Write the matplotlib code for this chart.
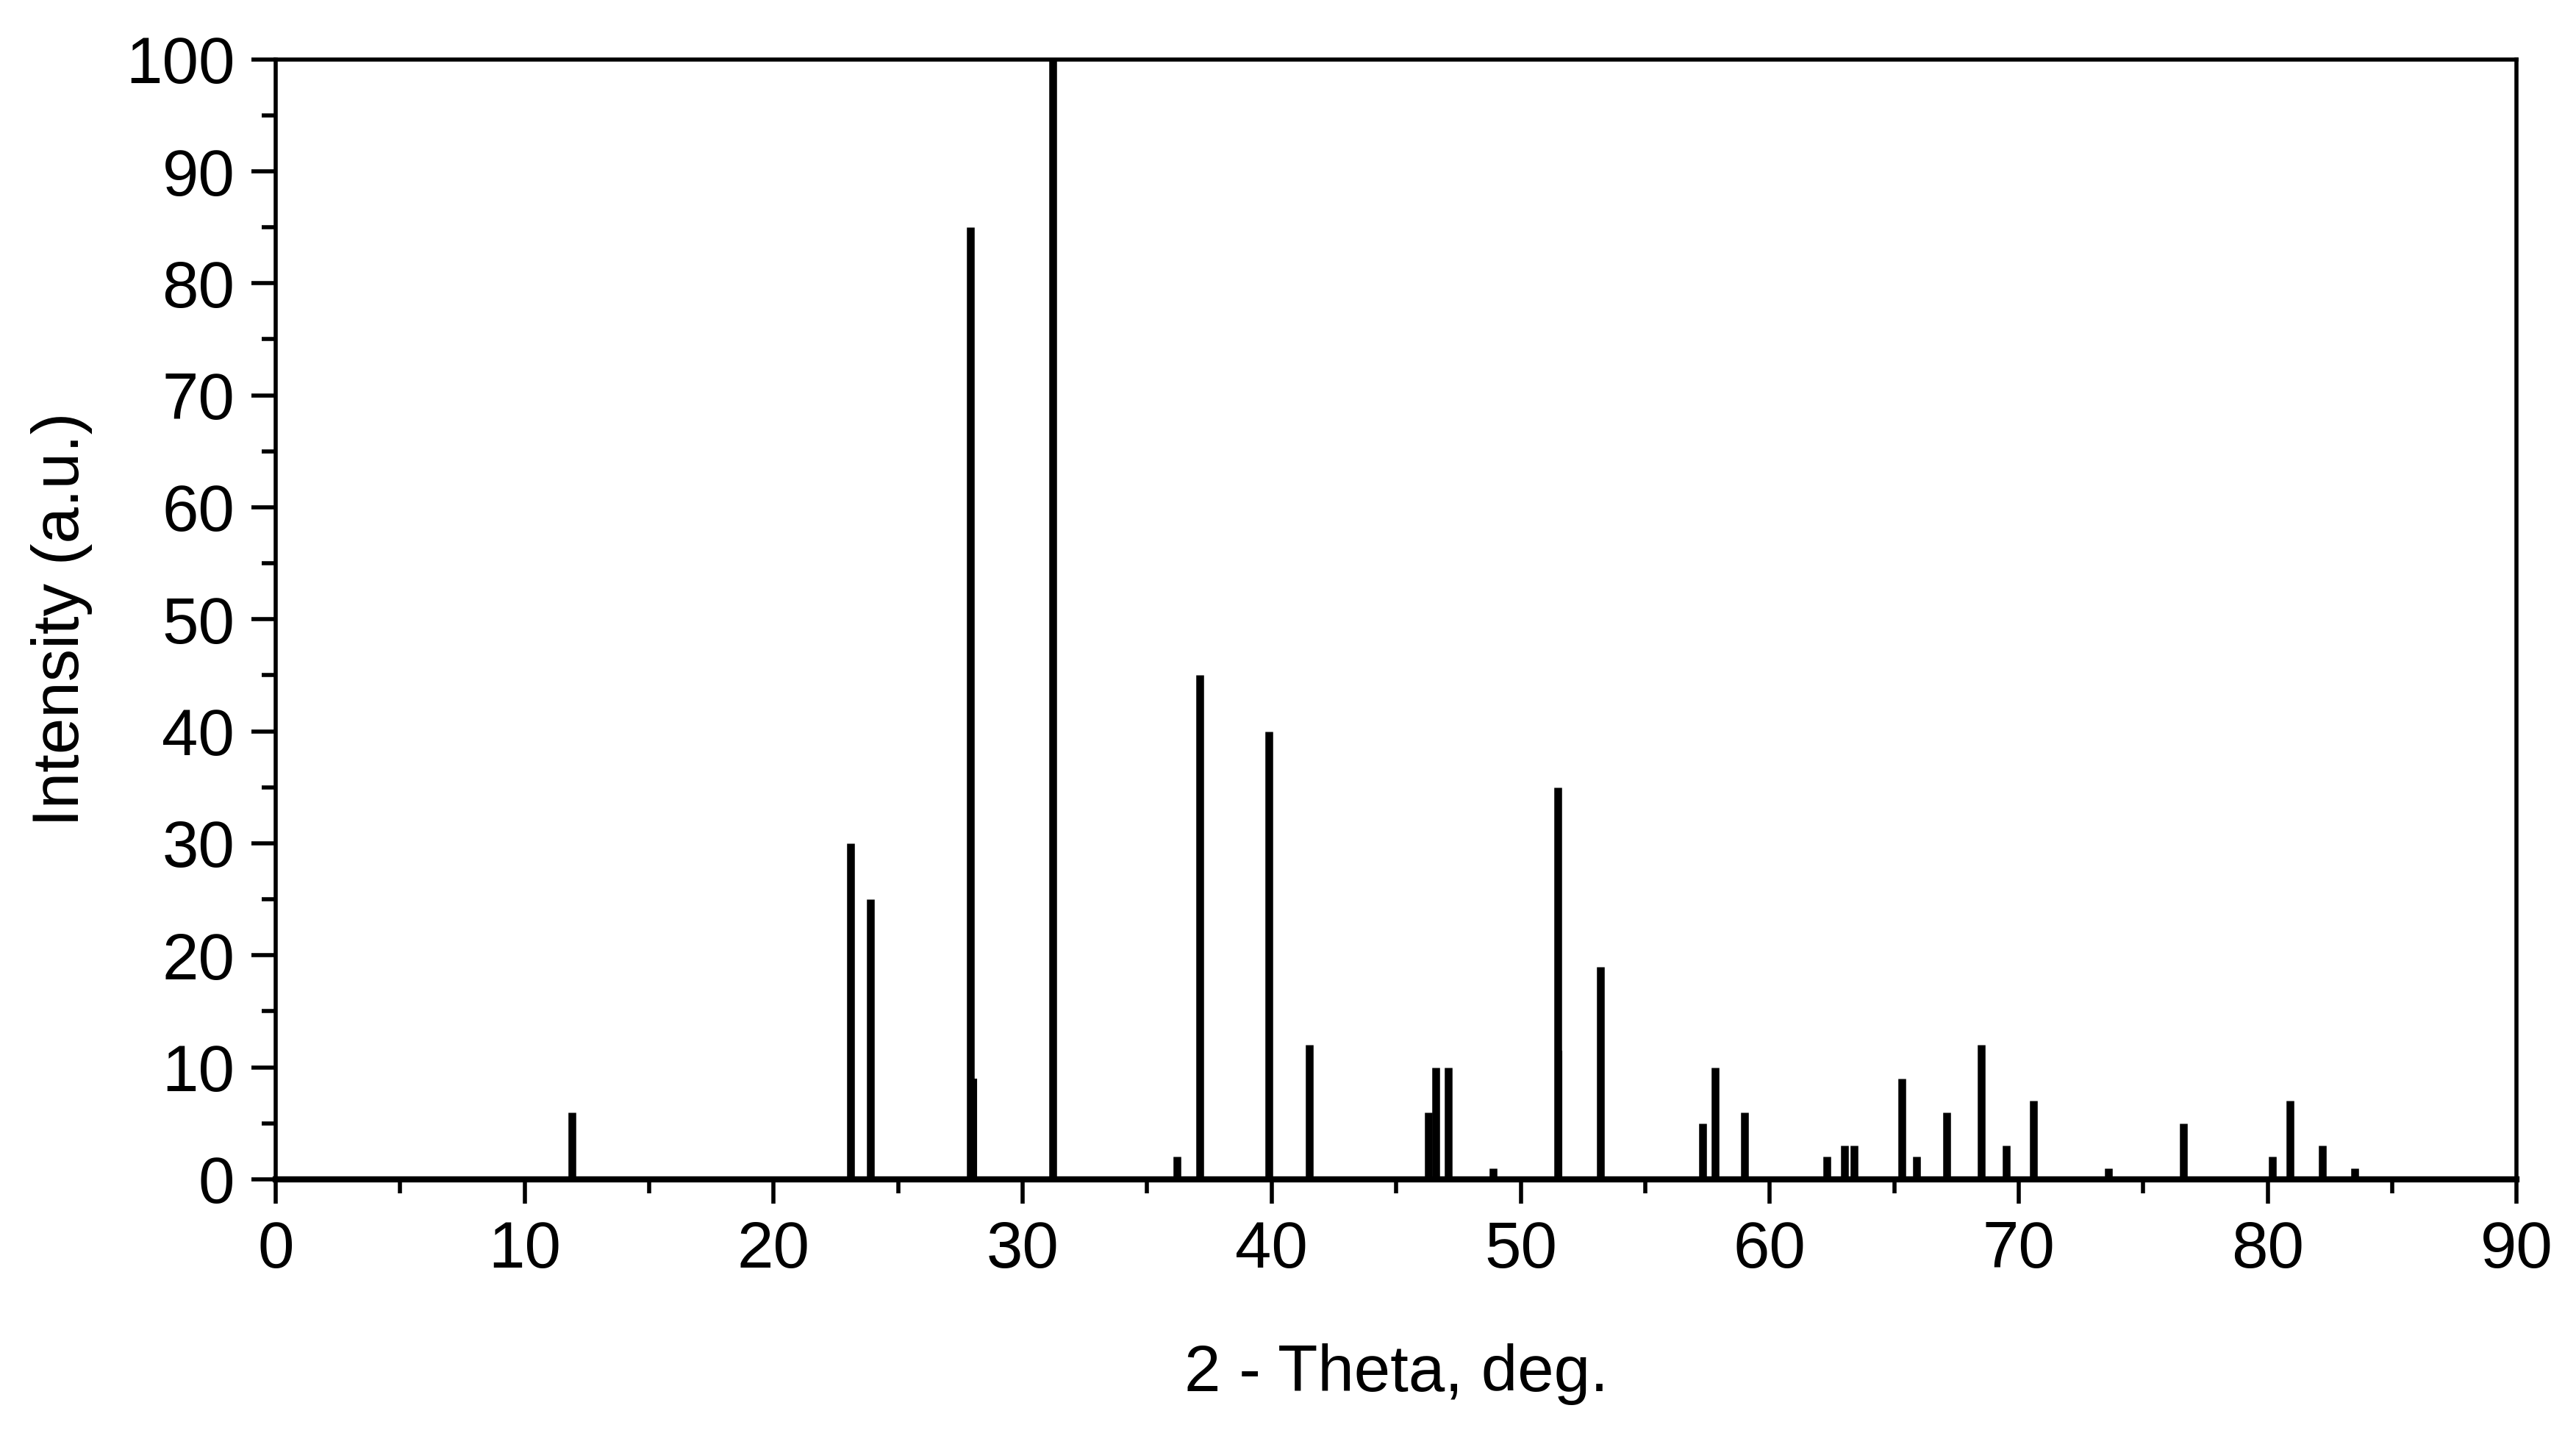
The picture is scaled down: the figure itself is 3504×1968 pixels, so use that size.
import matplotlib
matplotlib.use("Agg")
import matplotlib.pyplot as plt
from matplotlib.ticker import MultipleLocator

plt.rcParams['font.family'] = ['Liberation Sans', 'DejaVu Sans']

pos = [11.9, 23.1, 23.9, 27.9, 31.2, 36.2, 37.1, 39.9, 41.5, 46.3, 46.6, 47.1, 48.9,
       51.5, 53.2, 57.3, 57.8, 59.0, 62.3, 63.0, 63.4, 65.3, 65.9, 67.1, 68.5, 69.5,
       70.6, 73.6, 76.6, 80.2, 80.9, 82.2, 83.5]
inten = [6, 30, 25, 85, 102, 2, 45, 40, 12, 6, 10, 10, 1,
         35, 19, 5, 10, 6, 2, 3, 3, 9, 2, 6, 12, 3,
         7, 1, 5, 2, 7, 3, 1]
thin_pos = [28.1, 51.6]
thin_int = [9, 11.5]

fig = plt.figure(figsize=(17.52, 9.84), dpi=200)
ax = fig.add_axes([0.107, 0.185, 0.870, 0.774])
ax.vlines(pos, 0, inten, colors='black', lw=3.8, clip_on=True)
ax.vlines(thin_pos, 0, thin_int, colors='black', lw=1.5)
ax.set_xlim(0, 90)
ax.set_ylim(0, 100)
ax.xaxis.set_major_locator(MultipleLocator(10))
ax.xaxis.set_minor_locator(MultipleLocator(5))
ax.yaxis.set_major_locator(MultipleLocator(10))
ax.yaxis.set_minor_locator(MultipleLocator(5))
ax.tick_params(which='major', length=12, width=2, labelsize=32, direction='out', pad=8)
ax.tick_params(which='minor', length=7, width=2, direction='out')
for s in ax.spines.values():
    s.set_linewidth(2)
ax.spines['bottom'].set_linewidth(3)
ax.set_xlabel('2 - Theta, deg.', fontsize=32, labelpad=30)
ax.set_ylabel('Intensity (a.u.)', fontsize=32, labelpad=16)
fig.savefig('out.png', dpi=200)
